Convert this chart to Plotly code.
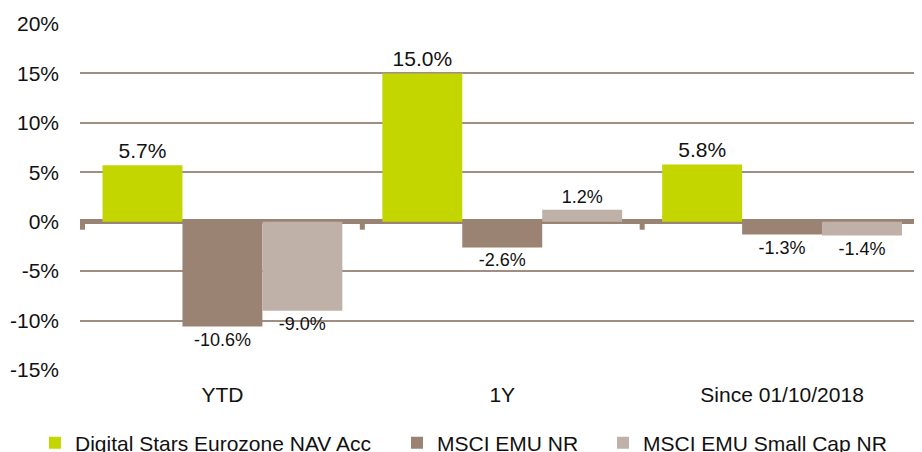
import plotly.graph_objects as go

categories = ["YTD", "1Y", "Since 01/10/2018"]
series_names = ["Digital Stars Eurozone NAV Acc", "MSCI EMU NR", "MSCI EMU Small Cap NR"]
fund_values = [5.7, 15.0, 5.8]
msci_emu_values = [-10.6, -2.6, -1.3]
msci_small_values = [-9.0, 1.2, -1.4]
y_tick_values = [-15, -10, -5, 0, 5, 10, 15, 20]
y_tick_labels = ["-15%", "-10%", "-5%", "0%", "5%", "10%", "15%", "20%"]

colors = ["#c4d600", "#9a8373", "#bfb0a8"]
label_sizes = [21, 18, 18]
legend_ids = ["legend", "legend2", "legend3"]
FONT = "Liberation Sans, Arial, sans-serif"

fig = go.Figure()
for name, vals, col, ls, lg in zip(series_names,
                                   [fund_values, msci_emu_values, msci_small_values],
                                   colors, label_sizes, legend_ids):
    fig.add_trace(go.Bar(
        x=categories, y=vals, name=name,
        marker=dict(color=col, line=dict(width=0)),
        text=[f"{v:.1f}%" for v in vals],
        textposition="outside",
        textfont=dict(size=ls, color="#111111", family=FONT),
        cliponaxis=False,
        legend=lg,
    ))

# small tick marks at category boundaries hanging below the zero line
for i in range(len(categories)):
    fig.add_shape(type="line", xref="x", yref="y",
                  x0=i - 0.5, x1=i - 0.5, ysizemode="pixel", yanchor=0,
                  y0=0, y1=-8, line=dict(color="#9a8373", width=5), layer="below")

legend_common = dict(orientation="h", xref="container", yref="container",
                     yanchor="middle", xanchor="left",
                     font=dict(size=21, color="#111111", family=FONT),
                     bgcolor="rgba(0,0,0,0)", borderwidth=0)

# the page body adds an 8px margin, so the figure is 8px smaller than the window
fig.update_layout(
    width=914, height=444,
    margin=dict(l=72, r=0, t=16, b=82, autoexpand=False),
    paper_bgcolor="white", plot_bgcolor="white",
    barmode="group", bargap=0.143, bargroupgap=0,
    font=dict(family=FONT, color="#111111"),
    showlegend=True,
    legend=dict(x=0.0295, y=0.0203, **legend_common),
    legend2=dict(x=0.4256, y=0.0203, **legend_common),
    legend3=dict(x=0.651, y=0.0203, **legend_common),
)
fig.update_yaxes(range=[-15, 20], tickvals=y_tick_values, ticktext=y_tick_labels,
                 showgrid=True, gridcolor="#a08e82", gridwidth=2,
                 zeroline=True, zerolinecolor="#9a8373", zerolinewidth=5,
                 showline=False, ticks="", ticklabelstandoff=20,
                 tickfont=dict(size=21, color="#111111", family=FONT))
fig.update_xaxes(showgrid=False, showline=False, ticks="", ticklabelstandoff=10,
                 tickfont=dict(size=21, color="#111111", family=FONT))

fig.write_html("out.html")
